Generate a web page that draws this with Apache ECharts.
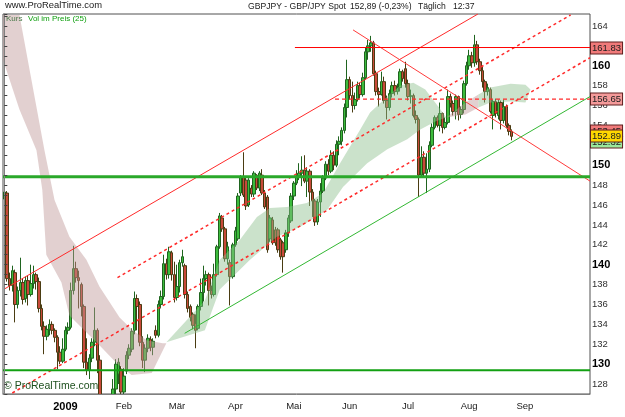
<!DOCTYPE html>
<html>
<head>
<meta charset="utf-8">
<script src="https://cdn.jsdelivr.net/npm/echarts@6/dist/echarts.min.js"></script>
<style>
  html, body { margin: 0; padding: 0; background: #fff; }
  #chart { width: 625px; height: 417px; }
</style>
</head>
<body>
<div id="chart"></div>
<script>
// daily candles GBPJPY, one row per trading day from 1 Dec 2008: [open, high, low, close]
var candles = [
  [146.6,147.6,146.3,147.3],[147.2,147.4,138.3,138.6],[138.6,139.2,137.4,137.9],[137.9,139.9,137.3,139.4],
  [139.2,139.5,134.2,136.0],[136.0,137.8,135.6,137.4],[137.4,140.7,136.8,138.2],[138.2,138.6,136.0,136.5],
  [136.6,138.8,136.2,138.4],[138.4,138.9,135.9,137.0],[137.0,140.0,136.8,138.1],[138.1,139.9,137.6,139.0],
  [139.0,139.2,137.5,138.3],[138.3,138.7,135.2,135.6],[135.6,136.0,133.4,133.8],[133.8,134.3,131.0,132.8],
  [132.8,133.9,132.4,133.5],[133.5,134.5,132.9,134.0],[134.0,134.3,133.0,133.4],[133.4,133.6,132.2,132.7],
  [132.7,132.9,129.5,131.2],[131.2,131.8,130.0,130.3],[130.3,132.6,130.1,131.5],[131.5,133.8,131.3,133.4],
  [133.4,134.2,133.0,133.7],[133.7,138.2,133.5,137.4],[137.4,141.9,137.0,139.6],[139.6,140.3,138.2,138.7],
  [138.7,139.4,135.6,138.4],[138.0,138.2,134.8,135.8],[135.8,136.0,129.6,130.2],[130.2,132.6,128.9,129.4],
  [129.4,131.0,128.5,130.6],[130.6,132.6,130.2,132.2],[132.2,135.7,131.8,133.4],[133.4,133.6,129.1,130.4],
  [130.4,130.9,123.8,124.6],[124.6,125.5,119.8,121.5],[121.5,125.0,120.5,123.8],[123.8,124.3,118.8,120.6],
  [120.6,125.6,120.2,124.8],[124.8,128.5,124.0,127.5],[127.5,130.5,127.0,130.0],[129.0,130.6,128.0,130.2],
  [129.5,129.8,126.5,127.2],[127.2,129.6,126.8,128.8],[129.3,131.3,129.0,130.9],[130.9,132.0,130.5,131.6],
  [131.5,133.6,131.2,133.3],[133.4,137.3,133.0,136.6],[136.6,137.0,133.4,135.8],[136.0,136.3,131.8,132.2],
  [132.2,132.8,129.6,130.4],[130.4,132.0,129.2,131.6],[131.6,133.0,131.2,132.6],[132.5,132.8,131.3,131.7],
  [131.7,132.6,130.9,132.3],[133.4,133.9,132.6,132.9],[132.9,136.4,132.7,136.0],[136.0,137.4,135.6,136.8],
  [136.8,141.0,136.5,140.1],[140.1,140.6,138.5,139.0],[139.0,141.8,138.6,141.3],[141.2,141.4,138.4,139.0],
  [139.0,140.3,136.2,136.7],[136.7,140.0,136.4,137.8],[137.8,140.5,137.2,140.2],[140.2,141.5,139.8,140.8],
  [139.9,140.1,136.6,137.0],[137.0,137.3,135.2,135.6],[135.8,136.0,134.3,134.7],[135.0,135.2,133.5,133.9],
  [134.1,135.0,131.6,133.4],[133.6,136.0,133.4,135.8],[135.8,138.6,135.4,137.2],[137.2,139.9,136.3,138.6],
  [138.6,139.4,137.9,139.0],[139.0,139.2,135.9,137.4],[137.4,137.9,136.6,137.0],[137.0,140.1,136.8,139.0],
  [139.0,142.0,138.8,141.8],[141.8,145.2,141.6,144.9],[144.7,145.0,143.3,143.6],[143.6,143.8,140.3,140.6],
  [140.6,142.3,140.0,141.8],[140.2,140.5,135.9,138.8],[138.8,142.2,138.6,142.0],[142.0,143.8,141.8,143.4],
  [142.6,147.2,142.4,146.9],[147.2,149.0,146.9,148.8],[148.8,151.3,146.8,147.0],[148.5,148.8,145.5,145.9],
  [146.0,148.7,145.8,148.5],[147.7,148.0,146.8,147.1],[147.1,149.4,146.8,149.2],[149.0,149.1,147.5,147.7],
  [147.7,149.4,147.4,149.2],[149.0,149.6,147.0,147.2],[147.2,147.5,145.6,145.8],[146.8,147.0,141.2,141.5],
  [142.6,145.0,142.3,144.7],[144.5,144.8,142.0,142.2],[143.5,143.8,141.9,142.2],[143.5,143.7,141.2,141.5],
  [142.5,142.7,140.5,140.8],[142.2,142.4,139.2,140.8],[141.5,143.5,141.2,143.2],[143.2,145.0,142.8,144.7],
  [144.4,147.2,144.2,146.9],[146.9,148.4,146.5,148.2],[148.2,149.5,148.0,148.9],[148.9,150.2,148.5,149.2],
  [149.2,150.9,147.9,149.5],[149.5,151.0,148.2,148.4],[148.4,149.8,146.8,149.4],[149.4,149.6,145.9,147.3],
  [147.3,147.6,144.8,146.4],[146.4,146.6,143.9,144.3],[144.3,146.6,144.0,146.3],[146.3,148.2,144.8,147.4],
  [147.4,149.0,147.2,148.7],[148.7,150.4,148.5,150.1],[150.1,150.6,149.0,149.4],[149.4,151.5,149.2,151.0],
  [151.0,151.4,149.5,150.0],[150.0,152.5,149.8,152.1],[152.1,152.9,151.0,152.4],[152.4,153.8,152.0,153.5],
  [153.5,156.2,153.2,155.8],[155.8,160.6,154.8,158.6],[158.6,158.9,156.6,157.0],[157.0,158.4,155.3,156.0],
  [156.0,157.3,155.6,156.6],[156.6,158.4,156.4,158.0],[158.0,158.3,156.7,157.1],[157.1,159.3,156.9,158.8],
  [158.8,161.8,158.6,161.4],[161.4,162.6,160.6,162.0],[162.0,163.0,161.4,162.3],[162.3,162.5,159.0,159.2],
  [159.2,159.5,157.0,157.4],[157.4,157.8,155.9,157.1],[157.1,159.4,157.0,158.4],[158.4,158.9,156.2,156.5],
  [156.5,157.0,154.6,155.8],[155.8,157.6,155.5,157.2],[157.2,158.4,156.8,158.0],[158.0,158.5,157.0,157.4],
  [157.4,158.2,157.1,157.8],[157.8,159.7,157.4,159.4],[159.4,159.6,158.4,158.7],[159.7,160.4,157.8,158.2],
  [158.2,158.6,156.5,156.9],[156.9,157.6,156.2,157.0],[157.0,157.2,154.8,155.0],[155.0,155.5,154.2,154.6],
  [154.6,154.8,146.8,149.0],[149.0,151.9,148.8,150.8],[150.8,151.4,148.9,149.2],[149.2,151.2,147.2,149.6],
  [149.6,152.4,149.3,152.0],[152.0,154.2,151.8,153.8],[153.8,155.0,153.6,154.8],[154.8,155.0,153.8,154.0],
  [154.0,156.3,153.4,155.2],[155.2,155.3,153.2,153.8],[153.8,154.8,153.6,154.3],[154.3,157.6,154.1,156.9],
  [156.9,157.2,155.8,156.2],[156.2,156.5,155.0,155.4],[155.4,157.1,154.6,156.9],[156.9,157.0,154.5,155.1],
  [155.1,155.9,154.7,155.6],[155.6,158.5,155.2,158.2],[158.2,160.4,158.0,160.0],[160.0,161.6,159.6,161.0],
  [161.0,161.4,159.8,160.3],[160.3,163.1,159.9,162.1],[162.1,162.5,160.1,160.4],[160.4,160.7,159.1,159.5],
  [159.5,159.9,157.8,158.4],[158.4,158.6,156.3,157.4],[157.4,158.2,157.0,157.8],[157.6,157.8,155.2,155.4],
  [155.0,156.6,153.6,156.4],[156.4,156.7,154.8,155.2],[155.0,156.6,154.6,156.3],[156.3,156.5,153.6,154.5],
  [154.5,156.6,154.2,155.9],[155.9,156.1,153.7,154.0],[154.0,154.2,153.0,153.4],[153.4,153.6,152.5,152.9]
];

// month ticks (category index -> label)
var tickIdx = [23, 45, 65, 87, 109, 130, 152, 175, 196];
var tickLabels = ['2009', 'Feb', 'Mär', 'Apr', 'Mai', 'Jun', 'Jul', 'Aug', 'Sep'];

// "Vol im Preis" band outlines, [day index, price]
var pinkUpper1 = [[5.7,165.1],[10.2,158.6],[15.1,151.5],[18.9,146.5],[24.5,142.8],[30.9,140.5],[35.8,137.8],[43.4,134.7],[48.3,133.4],[53.6,132.4],[59.6,132.1],[61,132.1]];
var pinkLower1 = [[-0.5,165.1],[-0.5,160.6],[5.7,155.6],[12.1,151.5],[14.3,147.5],[15.8,141.0],[21.5,138.2],[24.5,134.9],[35.8,131.9],[42.3,130.1],[47.9,128.9],[55.5,129.1],[61,132.1]];
var greenUpper1 = [[61,132.2],[75.5,136.4],[81.1,140.5],[88.7,142.5],[95.1,144.8],[100,145.7],[106.4,145.8],[113.9,146.2],[120,147.2],[126.4,150.2],[134,153.6],[137.7,155.3],[144.2,156.9],[149.1,158.0],[154,158.3],[158.5,157.6],[164.2,155.6],[166.4,154.8]];
var greenLower1 = [[61,132.2],[75.5,133.4],[81.1,137.5],[92.5,140.5],[102.6,142.8],[111.3,143.8],[121.5,145.5],[127.5,147.8],[136.6,150.2],[144.2,151.6],[151.7,152.6],[156.6,153.6],[162.3,154.4],[166.4,154.8]];
var pinkUpper2 = [[166.4,154.8],[173.6,156.3],[178.5,157.1]];
var pinkLower2 = [[166.4,154.8],[173.6,155.1],[178.5,155.8]];
var greenUpper2 = [[178.5,157.1],[183,157.8],[190.6,158.2],[196.2,158.1],[198.1,157.6]];
var greenLower2 = [[178.5,155.8],[183,156.3],[190.6,156.4],[196.2,156.3],[198.1,157.6]];

// trend lines, [day index, price]
var channelTop = [[0,137.55],[178.3,165.2]];
var channelMid = [[42.6,138.7],[213.2,165.1]];
var channelLow = [[3.0,127.1],[220.5,160.8]];
var downLine = [[131.3,163.6],[220.5,148.4]];
var upLine = [[67.9,133.1],[220.5,156.9]];
var resistLine = [[109.4,161.83],[220.5,161.83]];
var midLine = [[124.5,156.65],[220.5,156.65]];
var supportLine = [[-0.5,148.85],[220.5,148.85]];
var bottomLine = [[-0.5,129.4],[220.5,129.4]];

// price boxes on the right axis (last one drawn on top)
var boxValues = [161.83, 156.65, 153.45, 152.32, 152.89];
var boxColors = ['#f07a7a', '#f49a9a', '#f07a7a', '#9be89b', '#ffd700'];

var days = [];
var d = new Date(Date.UTC(2008, 11, 1));
while (days.length < 221) {
  var wd = d.getUTCDay();
  if (wd !== 0 && wd !== 6) days.push(d.toISOString().slice(0, 10));
  d = new Date(d.getTime() + 86400000);
}

var kData = candles.map(function (c) { return [c[0], c[3], c[2], c[1]]; });

function band(upper, lower, fill) {
  return {
    type: 'custom', xAxisIndex: 1, yAxisIndex: 0, z: 3, silent: true,
    data: [[100, 140]],
    renderItem: function (params, api) {
      var pts = upper.concat(lower.slice().reverse()).map(function (p) { return api.coord(p); });
      return { type: 'polygon', shape: { points: pts }, style: { fill: fill } };
    }
  };
}

function seg(data, color, width, dash) {
  return {
    type: 'line', xAxisIndex: 1, yAxisIndex: 0, z: 4, silent: true,
    data: data, showSymbol: false, symbol: 'none', animation: false,
    lineStyle: { color: color, width: width, type: dash || 'solid' }
  };
}

var myChart = echarts.init(document.getElementById('chart'), null, { renderer: 'canvas' });

var isTick = function (index) { return tickIdx.indexOf(index) >= 0; };

var pinkFill = 'rgba(190,150,150,0.45)';
var greenFill = 'rgba(140,190,140,0.45)';
var titleFont = '8.6px "Liberation Sans"';

var staticGraphic = [
  // covers candle parts below the plot floor
  { type: 'rect', z: 5, silent: true, shape: { x: 0, y: 394.5, width: 625, height: 23 }, style: { fill: '#fff' } },
  { type: 'text', left: 5, top: 1, style: { text: 'www.ProRealTime.com', font: '9.4px "Liberation Sans"', fill: '#202020' } },
  { type: 'text', left: 248, top: 2, style: { text: 'GBPJPY - GBP/JPY Spot', font: titleFont, fill: '#202020' } },
  { type: 'text', left: 350, top: 2, style: { text: '152,89 (-0,23%)', font: titleFont, fill: '#202020' } },
  { type: 'text', left: 418, top: 2, style: { text: 'Täglich', font: titleFont, fill: '#202020' } },
  { type: 'text', left: 453, top: 2, style: { text: '12:37', font: titleFont, fill: '#202020' } },
  { type: 'text', left: 6, top: 15, z: 10, style: { text: 'Kurs', font: '8px "Liberation Sans"', fill: '#4a7a4a' } },
  { type: 'text', left: 28, top: 15, z: 10, style: { text: 'Vol im Preis (25)', font: '8px "Liberation Sans"', fill: '#10a010' } },
  { type: 'text', left: 4, top: 381, z: 10, style: { text: '© ProRealTime.com', font: '10.5px "Liberation Sans"', fill: '#1e501e' } }
];

myChart.setOption({
  animation: false,
  backgroundColor: '#fff',
  grid: { left: 3, right: 35, top: 14, bottom: 23, show: true, borderColor: '#505050', borderWidth: 1, outerBoundsMode: 'none' },
  graphic: staticGraphic,
  xAxis: [
    {
      type: 'category', data: days, boundaryGap: true, z: 10,
      axisLine: { lineStyle: { color: '#808080' } },
      axisTick: { interval: function (i) { return isTick(i); }, alignWithLabel: true, length: 4, lineStyle: { color: '#606060' } },
      axisLabel: {
        interval: function (i) { return isTick(i); },
        margin: 7, color: '#202020', fontFamily: 'Liberation Sans', fontSize: 9.5,
        formatter: function (v, i) {
          var k = tickIdx.indexOf(i);
          if (k < 0) return '';
          return k === 0 ? '{b|' + tickLabels[k] + '}' : tickLabels[k];
        },
        rich: { b: { fontWeight: 'bold', fontSize: 11, fontFamily: 'Liberation Sans', color: '#000' } }
      },
      splitLine: { show: false }
    },
    { type: 'value', min: -0.5, max: 220.5, show: false }
  ],
  yAxis: {
    type: 'value', position: 'right', min: 127, max: 165.2, interval: 1, z: 10,
    axisLine: { show: true, lineStyle: { color: '#808080' } },
    axisTick: { show: true, length: 3, lineStyle: { color: '#404040' } },
    splitLine: { show: false },
    axisLabel: {
      margin: 2, color: '#303030', fontFamily: 'Liberation Sans', fontSize: 9.5,
      formatter: function (v) {
        if (v % 10 === 0) return '{b|' + v + '}';
        if (v % 2 === 0) return String(v);
        return '';
      },
      rich: { b: { fontWeight: 'bold', fontSize: 11, fontFamily: 'Liberation Sans', color: '#000' } }
    }
  },
  series: [
    {
      type: 'candlestick', data: kData, barWidth: 3, z: 2,
      itemStyle: { color: '#3cbc3c', color0: '#c84a3a', borderColor: '#1f641f', borderColor0: '#4a3c12', borderWidth: 1 }
    },
    band(pinkUpper1, pinkLower1, pinkFill),
    band(greenUpper1, greenLower1, greenFill),
    band(pinkUpper2, pinkLower2, pinkFill),
    band(greenUpper2, greenLower2, greenFill),
    seg(channelTop, '#ff2a2a', 1),
    seg(channelMid, '#ff2a2a', 1.5, [3, 3]),
    seg(channelLow, '#ff2a2a', 1.5, [3, 3]),
    seg(downLine, '#ff3a3a', 1),
    seg(upLine, '#33b833', 1),
    seg(resistLine, '#ff0000', 1),
    seg(midLine, '#ff2a2a', 1.2, [4, 3]),
    seg(bottomLine, '#12a012', 2),
    seg(supportLine, '#2aa82a', 3)
  ]
});

// price boxes placed through the y axis scale
var boxGraphic = boxValues.map(function (v, k) {
  var y = myChart.convertToPixel({ yAxisIndex: 0 }, v);
  return {
    type: 'text', x: 591, y: Math.round(y), z: 20 + k, silent: true,
    style: {
      text: v.toFixed(2), font: '9.5px "Liberation Sans"', fill: '#202020',
      verticalAlign: 'middle', align: 'left',
      backgroundColor: boxColors[k], borderColor: '#602020', borderWidth: 1,
      padding: [1, 1, 0, 1]
    }
  };
});
myChart.setOption({ graphic: staticGraphic.concat(boxGraphic) });
</script>
</body>
</html>
